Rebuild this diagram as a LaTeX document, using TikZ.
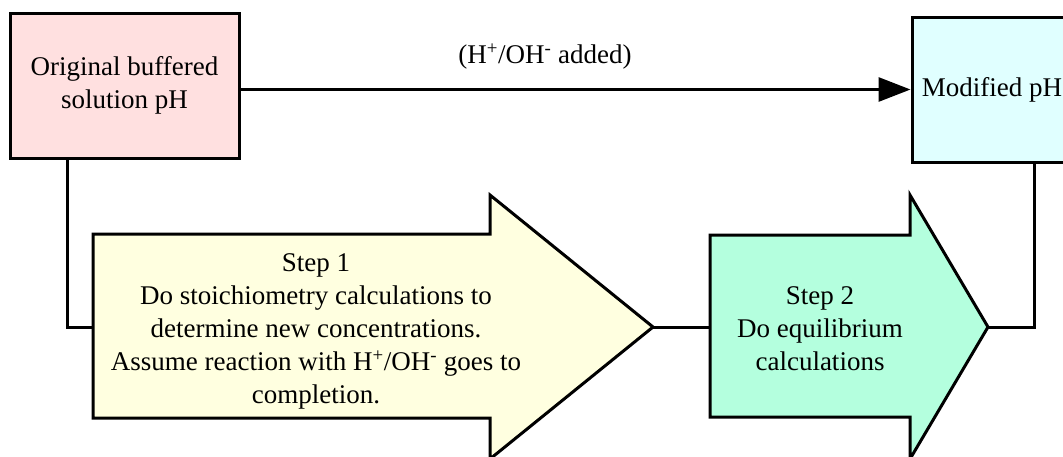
\documentclass[tikz,border=0pt]{standalone}
\usepackage{fontspec}
\setmainfont{Liberation Serif}
\usetikzlibrary{arrows.meta}
\definecolor{pinkc}{RGB}{255,224,224}
\definecolor{cyanc}{RGB}{224,255,255}
\definecolor{yellowc}{RGB}{255,255,224}
\definecolor{mintc}{RGB}{180,255,222}
\begin{document}
\begin{tikzpicture}[x=1pt,y=-1pt,
  line width=3pt, line join=miter,
  box/.style={draw=black, line width=3pt, minimum height=145pt, inner sep=0pt, align=center},
  txt/.style={align=center, inner sep=0pt, font=\fontsize{27}{33}\selectfont},
  link/.style={draw=black, line width=3pt}]
\useasboundingbox (0,0) rectangle (1063,456);
\clip (0,0) rectangle (1063,456);
% boxes
\node[box, fill=pinkc, minimum width=229pt, font=\fontsize{27}{33}\selectfont] (orig) at (124.5,85.5) {Original buffered\\solution pH};
\node[box, fill=cyanc, minimum width=161pt] (mod) at (992.5,89.5) {};
\node[txt] (modt) at (992,90) {Modified pH};
% block arrows
\draw[fill=yellowc] (93,234) -- (490,234) -- (490,195) -- (653,327) -- (490,459) -- (490,418) -- (93,418) -- cycle;
\draw[fill=mintc] (710,235) -- (910,235) -- (910,195) -- (988,327) -- (910,459) -- (910,417) -- (710,417) -- cycle;
\coordinate (a1w) at (93,327);
\coordinate (a1t) at (653,327);
\coordinate (a2w) at (710,327);
\coordinate (a2t) at (988,327);
\node[txt] (s1) at (316,331) {Step 1\\Do stoichiometry calculations to\\determine new concentrations.\\Assume reaction with H\textsuperscript{+}/OH\textsuperscript{-} goes to\\completion.};
\node[txt] (s2) at (820,329) {Step 2\\Do equilibrium\\calculations};
% connectors
\draw[link, -{Triangle[length=32pt,width=24pt]}] (orig.east |- mod.west) -- (mod.west);
\node[txt] (lab) at (545,57) {(H\textsuperscript{+}/OH\textsuperscript{-} added)};
\draw[link] ([xshift=-57.5pt]orig.south) |- (a1w);
\draw[link] (a1t) -- (a2w);
\draw[link] (a2t) -| ([xshift=41.5pt]mod.south);
\end{tikzpicture}
\end{document}
